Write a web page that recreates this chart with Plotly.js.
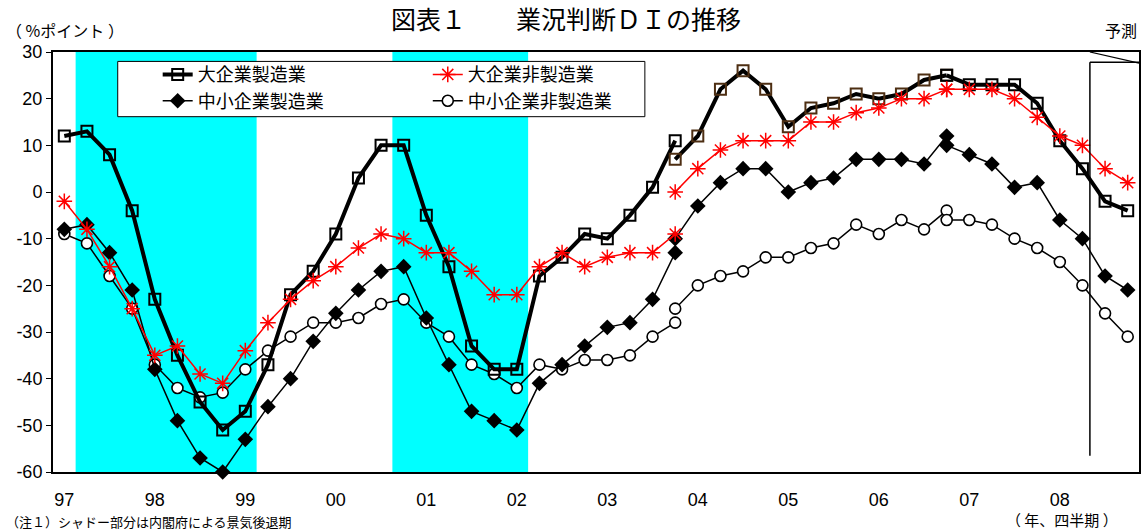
<!DOCTYPE html>
<html><head><meta charset="utf-8">
<script src="https://cdn.plot.ly/plotly-3.0.1.min.js"></script>
<style>html,body{margin:0;padding:0;background:#fff}#chart{width:1142px;height:531px}</style>
</head><body><div id="chart"></div>
<script>
const quarters = ['97Q1','97Q2','97Q3','97Q4','98Q1','98Q2','98Q3','98Q4','99Q1','99Q2','99Q3','99Q4',
  '00Q1','00Q2','00Q3','00Q4','01Q1','01Q2','01Q3','01Q4','02Q1','02Q2','02Q3','02Q4',
  '03Q1','03Q2','03Q3','03Q4','04Q1','04Q2','04Q3','04Q4','05Q1','05Q2','05Q3','05Q4',
  '06Q1','06Q2','06Q3','06Q4','07Q1','07Q2','07Q3','07Q4','08Q1','08Q2','08Q3','08Q4'];
const yearLabels = ['97','98','99','00','01','02','03','04','05','06','07','08'];
const yTicks = [30,20,10,0,-10,-20,-30,-40,-50,-60];

// values on the survey basis in force before each revision quarter
const largeMfg    = [12,13,8,-4,-23,-35,-45,-51,-47,-37,-22,-17,-9,3,10,10,-5,-16,-33,-38,-38,-18,-14,-9,-10,-5,1,11,12,22,26,22,14,18,19,21,20,21,24,25,23,23,23,19,11,5,-2,-4];
const largeNonMfg = [-2,-8,-16,-25,-35,-33,-39,-41,-34,-28,-23,-19,-16,-12,-9,-10,-13,-13,-17,-22,-22,-16,-13,-16,-14,-13,-13,-9,5,9,11,11,11,15,15,17,18,20,20,22,22,22,20,16,12,10,5,2];
const smeMfg      = [-8,-7,-13,-21,-38,-49,-57,-60,-53,-46,-40,-32,-26,-21,-17,-16,-27,-37,-47,-49,-51,-41,-37,-33,-29,-28,-23,-13,-3,2,5,5,0,2,3,7,7,7,6,12,8,6,1,2,-6,-10,-18,-21];
const smeNonMfg   = [-9,-11,-18,-25,-37,-42,-44,-43,-38,-34,-31,-28,-28,-27,-24,-23,-28,-31,-37,-39,-42,-37,-38,-36,-36,-35,-31,-28,-20,-18,-17,-14,-14,-12,-11,-7,-9,-6,-8,-4,-6,-7,-10,-12,-15,-20,-26,-31];

// survey revisions: value on the new basis at the revision quarters
const revisionQuarters = ['03Q4','06Q4'];
const largeMfgRev    = [7, 25];
const largeNonMfgRev = [0, 22];
const smeMfgRev      = [-10, 10];
const smeNonMfgRev   = [-25, -6];

const recessionStart = ['97Q2','00Q4'];
const recessionEnd   = ['99Q1','02Q1'];
const forecastStart  = '08Q3';

const names = ['大企業製造業','大企業非製造業','中小企業製造業','中小企業非製造業'];

const idx = q => quarters.indexOf(q);
function segments(main, rev) {
  const r1 = idx(revisionQuarters[0]), r2 = idx(revisionQuarters[1]);
  const xs = (a,b) => quarters.slice(a,b+1).map((q,i)=>a+i);
  return [
    {x: xs(0,r1), y: main.slice(0,r1+1)},
    {x: xs(r1,r2), y: [rev[0]].concat(main.slice(r1+1,r2+1))},
    {x: xs(r2,quarters.length-1), y: [rev[1]].concat(main.slice(r2+1))}
  ];
}

const styles = {
  largeMfg: {line:{color:'#000',width:4}, marker:{symbol:'square-open',size:11,color:'#000',line:{width:2,color:'#000'}}},
  largeNonMfg: {line:{color:'#ff0000',width:1.5}, marker:{symbol:'asterisk-open',size:13,color:'#ff0000',line:{width:1.5,color:'#ff0000'}}},
  smeMfg: {line:{color:'#000',width:1.5}, marker:{symbol:'diamond',size:12,color:'#000',line:{width:0}}},
  smeNonMfg: {line:{color:'#000',width:1.5}, marker:{symbol:'circle',size:11,color:'#fff',line:{width:1.6,color:'#000'}}}
};

function buildTraces(main, rev, name, st, legendId, rank, midColor) {
  return segments(main, rev).map((s,k) => {
    const m = JSON.parse(JSON.stringify(st.marker));
    if (k === 1 && midColor) { m.color = midColor; m.line.color = midColor; }
    return {
      type:'scatter', mode:'lines+markers', x:s.x, y:s.y, name:name,
      line: st.line, marker: m, showlegend: k===0, legend: legendId, legendrank: rank,
      hoverinfo:'skip', cliponaxis:false
    };
  });
}

const traces = [].concat(
  buildTraces(smeNonMfg, smeNonMfgRev, names[3], styles.smeNonMfg, 'legend2', 2),
  buildTraces(smeMfg, smeMfgRev, names[2], styles.smeMfg, 'legend', 2),
  buildTraces(largeMfg, largeMfgRev, names[0], styles.largeMfg, 'legend', 1, '#4d2e12'),
  buildTraces(largeNonMfg, largeNonMfgRev, names[1], styles.largeNonMfg, 'legend2', 1)
);

const jp = 'Noto Sans CJK JP';
const num = 'Liberation Sans, Arial';
const xRange = [-0.5, quarters.length - 0.5];
const yRange = [-60, 30];

const shapes = recessionStart.map((s,i) => ({
  type:'rect', xref:'x', yref:'paper', x0: idx(s)-0.5, x1: idx(recessionEnd[i])+0.5, y0:0, y1:1,
  fillcolor:'#00ffff', line:{width:0}, layer:'below'
}));
// legend frame
shapes.push({type:'rect', xref:'paper', yref:'paper', x0:0.0596, x1:0.545, y0:0.846, y1:0.9776,
  fillcolor:'#fff', line:{color:'#000', width:1}, layer:'above'});
// forecast callout
const fx = idx(forecastStart) - 0.67;
shapes.push({type:'line', xref:'x', yref:'y', x0:fx, x1:fx, y0:-56.5, y1:27.8, line:{color:'#000',width:1.5}, layer:'above'});
shapes.push({type:'line', xref:'x', yref:'y', x0:fx, x1:xRange[1], y0:27.8, y1:27.8, line:{color:'#000',width:1.5}, layer:'above'});
shapes.push({type:'line', xref:'x', yref:'y', x0:fx, x1:xRange[1], y0:30, y1:27.6, line:{color:'#000',width:1.2}, layer:'above'});

const layout = {
  width:1142, height:531,
  margin:{l:53, r:3, t:52, b:59},
  paper_bgcolor:'#fff', plot_bgcolor:'#fff',
  title:{text:'図表１　　業況判断ＤＩの推移', font:{family:jp, size:25, color:'#000'},
    x:0.4956, xref:'container', xanchor:'center', y:0.962, yref:'container', yanchor:'middle'},
  xaxis:{range:xRange, tickmode:'array', tickvals:yearLabels.map(y=>idx(y+'Q1')), ticktext:yearLabels,
    ticks:'', showline:true, mirror:true, linecolor:'#000', linewidth:2, showgrid:false, zeroline:false,
    tickfont:{family:num, size:18, color:'#000'}, ticklabelstandoff:10, fixedrange:true},
  xaxis2:{range:xRange, overlaying:'x', anchor:'free', position:(0-yRange[0])/(yRange[1]-yRange[0]), side:'bottom',
    tickmode:'array', tickvals:quarters.slice(1).map((q,i)=>i+0.5), ticks:'inside', ticklen:6, tickwidth:1, tickcolor:'#000',
    showticklabels:false, showline:true, linecolor:'#000', linewidth:1.2, showgrid:false, zeroline:false},
  yaxis:{range:yRange, tickmode:'array', tickvals:yTicks, ticktext:yTicks.map(v=>String(v)),
    ticks:'outside', ticklen:5, tickwidth:1, tickcolor:'#000', showline:true, mirror:true, linecolor:'#000', linewidth:2,
    showgrid:false, zeroline:false, tickfont:{family:num, size:18, color:'#000'}, fixedrange:true},
  showlegend:true,
  legend:{x:0.0964, y:0.915, xanchor:'left', yanchor:'middle', orientation:'v', bgcolor:'rgba(0,0,0,0)', borderwidth:0,
    font:{family:jp, size:18, color:'#000'}, tracegroupgap:0},
  legend2:{x:0.3451, y:0.915, xanchor:'left', yanchor:'middle', orientation:'v', bgcolor:'rgba(0,0,0,0)', borderwidth:0,
    font:{family:jp, size:18, color:'#000'}, tracegroupgap:0},
  shapes: shapes,
  annotations:[
    {text:'（ %ポイント ）', xref:'paper', yref:'paper', x:-0.045, y:1.052, xanchor:'left', yanchor:'middle', showarrow:false,
      font:{family:jp, size:16, color:'#000'}},
    {text:'予測', xref:'paper', yref:'paper', x:1.0, y:1.052, xanchor:'right', yanchor:'middle', showarrow:false,
      font:{family:jp, size:16, color:'#000'}},
    {text:'（ 年、四半期 ）', xref:'paper', yref:'paper', x:0.9826, y:-0.113, xanchor:'right', yanchor:'middle', showarrow:false,
      font:{family:jp, size:15, color:'#000'}},
    {text:'（注１）シャドー部分は内閣府による景気後退期', xref:'paper', yref:'paper', x:-0.045, y:-0.117, xanchor:'left', yanchor:'middle', showarrow:false,
      font:{family:jp, size:13, color:'#000'}}
  ]
};

Plotly.newPlot('chart', traces, layout, {staticPlot:true, displayModeBar:false});
</script>
</body></html>
